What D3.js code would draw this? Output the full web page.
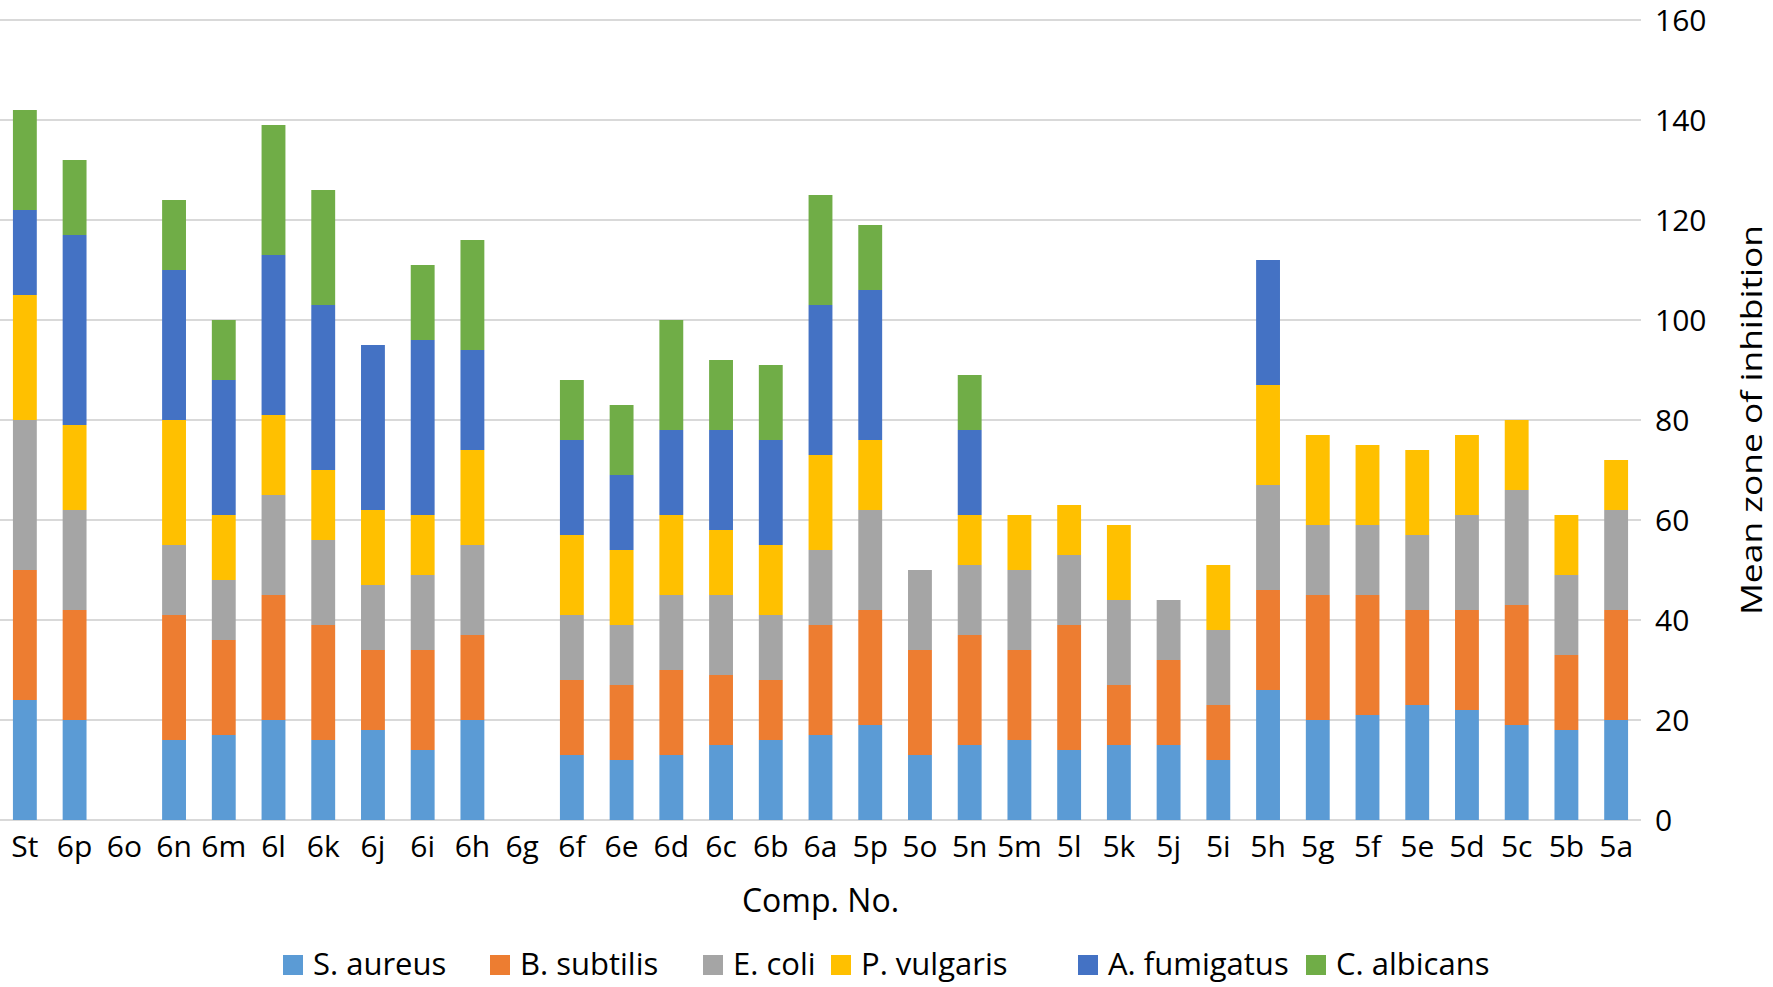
<!DOCTYPE html>
<html>
<head>
<meta charset="utf-8">
<script src="https://cdnjs.cloudflare.com/ajax/libs/d3/7.8.5/d3.min.js"></script>
<style>
body{margin:0;background:#fff;}
text{font-family:"Open Sans",sans-serif;fill:#000;}
</style>
</head>
<body>
<div id="chart"></div>
<script>
var w = 1773;
var h = 987;

// compounds, left to right
var categories = ["St","6p","6o","6n","6m","6l","6k","6j","6i","6h","6g","6f","6e","6d","6c","6b","6a","5p","5o","5n","5m","5l","5k","5j","5i","5h","5g","5f","5e","5d","5c","5b","5a"];
var seriesNames = ["S. aureus","B. subtilis","E. coli","P. vulgaris","A. fumigatus","C. albicans"];
var seriesColors = ["#5b9bd5","#ed7d31","#a5a5a5","#ffc000","#4472c4","#70ad47"];

var sAureus    = [24,20,0,16,17,20,16,18,14,20,0,13,12,13,15,16,17,19,13,15,16,14,15,15,12,26,20,21,23,22,19,18,20];
var bSubtilis  = [26,22,0,25,19,25,23,16,20,17,0,15,15,17,14,12,22,23,21,22,18,25,12,17,11,20,25,24,19,20,24,15,22];
var eColi      = [30,20,0,14,12,20,17,13,15,18,0,13,12,15,16,13,15,20,16,14,16,14,17,12,15,21,14,14,15,19,23,16,20];
var pVulgaris  = [25,17,0,25,13,16,14,15,12,19,0,16,15,16,13,14,19,14,0,10,11,10,15,0,13,20,18,16,17,16,14,12,10];
var aFumigatus = [17,38,0,30,27,32,33,33,35,20,0,19,15,17,20,21,30,30,0,17,0,0,0,0,0,25,0,0,0,0,0,0,0];
var cAlbicans  = [20,15,0,14,12,26,23,0,15,22,0,12,14,22,14,15,22,13,0,11,0,0,0,0,0,0,0,0,0,0,0,0,0];

var yTicks = [0,20,40,60,80,100,120,140,160];

var plotLeft = 0, plotRight = 1641, plotTop = 20, plotBottom = 820;
// where each legend swatch starts (layout only)
var legendX = [283, 490, 703, 831, 1078, 1306];

var svg = d3.select("#chart").append("svg")
  .attr("width", w)
  .attr("height", h);

var xScale = d3.scaleBand()
  .domain(categories)
  .range([plotLeft, plotRight])
  .paddingInner(0.52)
  .paddingOuter(0.26);

var yScale = d3.scaleLinear()
  .domain([0, 160])
  .range([plotBottom, plotTop]);

// rows for the stack
var table = categories.map(function(c, i){
  return {cat:c, s0:sAureus[i], s1:bSubtilis[i], s2:eColi[i], s3:pVulgaris[i], s4:aFumigatus[i], s5:cAlbicans[i]};
});
var keys = ["s0","s1","s2","s3","s4","s5"];
var stacked = d3.stack().keys(keys)(table);

//gridlines
svg.append("g")
  .selectAll("line")
  .data(yTicks)
  .enter().append("line")
  .attr("x1", plotLeft)
  .attr("x2", plotRight)
  .attr("y1", function(d){ return yScale(d); })
  .attr("y2", function(d){ return yScale(d); })
  .attr("stroke", "#d9d9d9")
  .attr("stroke-width", 2);

//bars
svg.append("g")
  .selectAll("g")
  .data(stacked)
  .enter().append("g")
  .attr("fill", function(d, i){ return seriesColors[i]; })
  .selectAll("rect")
  .data(function(d){ return d; })
  .enter().append("rect")
  .attr("x", function(d){ return xScale(d.data.cat); })
  .attr("width", xScale.bandwidth())
  .attr("y", function(d){ return yScale(d[1]); })
  .attr("height", function(d){ return yScale(d[0]) - yScale(d[1]); });

// y axis on the right, no line
var yAxis = svg.append("g")
  .attr("transform", "translate(" + (plotRight + 14) + ",0)")
  .call(d3.axisRight(yScale).tickValues(yTicks).tickSize(0).tickPadding(0));
yAxis.select(".domain").remove();
yAxis.selectAll("text")
  .attr("font-family", "Open Sans")
  .attr("font-size", 30)
  .attr("fill", "#000")
  .attr("dy", "0.36em");

// x axis labels
var xAxis = svg.append("g")
  .attr("transform", "translate(0," + plotBottom + ")")
  .call(d3.axisBottom(xScale).tickSize(0).tickPadding(0));
xAxis.select(".domain").remove();
xAxis.selectAll("text")
  .attr("font-family", "Open Sans")
  .attr("font-size", 30)
  .attr("fill", "#000")
  .attr("dy", null)
  .attr("y", 37);

// axis titles
svg.append("text")
  .attr("x", (plotLeft + plotRight) / 2)
  .attr("y", 912)
  .attr("text-anchor", "middle")
  .attr("font-size", 32)
  .text("Comp. No.");

svg.append("text")
  .attr("transform", "translate(1762," + ((plotTop + plotBottom) / 2) + ") rotate(-90)")
  .attr("text-anchor", "middle")
  .attr("font-size", 30)
  .attr("textLength", 390)
  .attr("lengthAdjust", "spacingAndGlyphs")
  .text("Mean zone of inhibition");

// legend
var legend = svg.append("g");
seriesNames.forEach(function(name, i){
  legend.append("rect")
    .attr("x", legendX[i])
    .attr("y", 955)
    .attr("width", 20)
    .attr("height", 20)
    .attr("fill", seriesColors[i]);
  legend.append("text")
    .attr("x", legendX[i] + 30)
    .attr("y", 975)
    .attr("font-size", 31)
    .text(name);
});
</script>
</body>
</html>
